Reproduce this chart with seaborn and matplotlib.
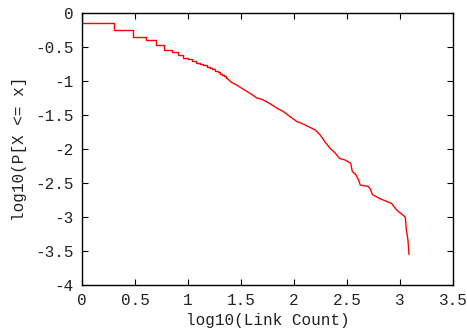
import matplotlib
matplotlib.use("Agg")
import matplotlib.pyplot as plt
import seaborn as sns
import pandas as pd

# log10(Link Count) -- low counts, drawn as a staircase
step_count = [0.0, 0.0, 0.301, 0.477, 0.602, 0.699, 0.778, 0.845, 0.903, 0.954,
              1.0, 1.041, 1.079, 1.114, 1.146, 1.176, 1.204, 1.23, 1.255, 1.279,
              1.301, 1.322, 1.342, 1.362]
# log10(P[X <= x]) for the staircase
step_prob = [0.0, -0.15, -0.25, -0.35, -0.40, -0.47, -0.54, -0.57, -0.62, -0.66,
             -0.68, -0.71, -0.73, -0.75, -0.77, -0.79, -0.81, -0.83, -0.85, -0.87,
             -0.89, -0.91, -0.93, -0.95]

# log10(Link Count) -- high counts, dense enough to look continuous
tail_count = [1.362, 1.41, 1.46, 1.52, 1.585, 1.65, 1.70, 1.77, 1.84, 1.90,
              1.96, 2.03, 2.07, 2.135, 2.20, 2.245, 2.29, 2.34, 2.39, 2.43,
              2.48, 2.535, 2.55, 2.585, 2.61, 2.625, 2.70, 2.72, 2.74, 2.81,
              2.92, 2.97, 3.05, 3.06, 3.075, 3.085]
tail_prob = [-0.95, -1.02, -1.06, -1.12, -1.18, -1.25, -1.27, -1.33, -1.40, -1.45,
             -1.52, -1.60, -1.62, -1.67, -1.72, -1.79, -1.89, -1.99, -2.06, -2.14,
             -2.16, -2.21, -2.33, -2.38, -2.46, -2.53, -2.55, -2.59, -2.67, -2.73,
             -2.80, -2.90, -3.00, -3.19, -3.34, -3.55]

x_ticks = [0, 0.5, 1, 1.5, 2, 2.5, 3, 3.5]
x_tick_labels = ["0", "0.5", "1", "1.5", "2", "2.5", "3", "3.5"]
y_ticks = [0, -0.5, -1, -1.5, -2, -2.5, -3, -3.5, -4]
y_tick_labels = ["0", "-0.5", "-1", "-1.5", "-2", "-2.5", "-3", "-3.5", "-4"]

step_df = pd.DataFrame({"x": step_count, "y": step_prob})
tail_df = pd.DataFrame({"x": tail_count, "y": tail_prob})

sns.set_style("ticks")
plt.rcParams["font.family"] = ["Liberation Mono", "DejaVu Sans Mono"]

fig = plt.figure(figsize=(4.67, 3.30), dpi=100)
ax = fig.add_axes([82 / 467, 1 - 285 / 330, (453 - 82) / 467, (285 - 13) / 330])

sns.lineplot(data=step_df, x="x", y="y", estimator=None, sort=False,
             drawstyle="steps-post", color="#ff0000", linewidth=1.0, ax=ax)
sns.lineplot(data=tail_df, x="x", y="y", estimator=None, sort=False,
             color="#ff0000", linewidth=1.0, ax=ax)

ax.set_xlim(0, 3.5)
ax.set_ylim(-4, 0)
ax.set_xticks(x_ticks)
ax.set_xticklabels(x_tick_labels)
ax.set_yticks(y_ticks)
ax.set_yticklabels(y_tick_labels)
ax.tick_params(direction="in", top=True, right=True, length=4, width=0.8,
               labelsize=11.5, colors="black", pad=6)
ax.tick_params(axis="both", labelcolor="#222222")
for s in ax.spines.values():
    s.set_linewidth(1.0)
    s.set_color("black")
    s.set_visible(True)

ax.set_xlabel("log10(Link Count)", fontsize=11.5, labelpad=3, color="#222222")
ax.set_ylabel("log10(P[X <= x]", fontsize=11.5, labelpad=6, color="#222222")

fig.savefig("out.png", dpi=100)
